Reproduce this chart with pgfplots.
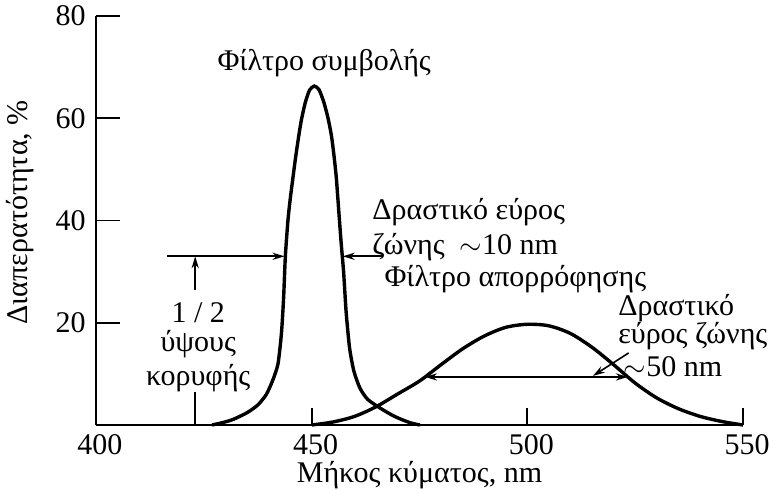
\documentclass[border=0pt]{standalone}
\usepackage{fontspec}
\setmainfont{Liberation Serif}
\usepackage{pgfplots}
\pgfplotsset{compat=1.18}
\usetikzlibrary{arrows.meta}

\begin{document}
\fontsize{15pt}{18pt}\selectfont
\begin{tikzpicture}[>={Stealth[length=6pt,width=3.6pt]}]
\begin{axis}[
  at={(0,0)}, anchor=south west,
  scale only axis, width=323.5pt, height=204.5pt,
  xmin=400, xmax=550, ymin=0, ymax=80,
  axis lines=left,
  axis line style={-, line width=1pt},
  xtick={400,450,500,550}, ytick={20,40,60,80},
  tick align=inside,
  major tick style={line width=0.9pt, black},
  xtick style={/pgfplots/major tick length=8.5pt},
  ytick style={/pgfplots/major tick length=12pt},
  /pgf/number format/assume math mode=true,
  ticklabel style={font=\fontsize{15pt}{18pt}\selectfont},
  xticklabel style={xshift=2pt, yshift=0.5pt},
  xlabel={Μήκος κύματος, nm},
  ylabel={Διαπερατότητα, \%},
  every axis x label/.style={at={(axis description cs:0.5,-0.123)}, anchor=center, inner sep=0pt},
  every axis y label/.style={at={(axis description cs:-0.1175,0.52)}, anchor=center, rotate=90},
  clip=false,
]
% interference filter: narrow band
\addplot[line width=1.7pt, smooth, tension=0.4] coordinates {
  (426.9,0) (429.5,0.5) (431.8,1.1) (435.0,2.4) (437.5,3.9) (439.5,6.0)
  (441.0,8.8) (442.2,12.0) (443.0,18) (443.5,25) (443.9,33) (444.5,40)
  (445.0,44) (445.6,48) (446.3,52.5) (447.0,56.5) (447.6,59.6)
  (448.5,63) (449.5,65.5) (450.6,66.3) (451.7,65.6) (452.8,63.2)
  (453.8,60.0) (454.6,56.5) (455.2,52.5) (455.7,48.5) (456.1,44)
  (456.8,36) (457.4,30) (458.0,22) (458.8,15) (459.8,10.5) (461.2,7.2)
  (463.0,5.0) (465.9,3.3) (468.5,2.0) (470.5,1.2) (473.0,0.4) (475.1,0)
};
% absorption filter: broad band
\addplot[line width=1.7pt, smooth, tension=0.5] coordinates {
  (450,0) (455,0.6) (460,1.7) (465,3.6) (470,6.1) (475,8.6) (480,11.8)
  (485,14.9) (490,17.4) (495,19.1) (500,19.7) (505,19.4) (510,17.9)
  (515,15.2) (520,11.8) (525,8.2) (530,5.3) (535,3.2) (540,1.7)
  (545,0.7) (550,0)
};

% half-height marker and bandwidth arrows
\draw[line width=0.8pt, ->] (axis cs:416.5,33) -- (axis cs:443.7,33);
\draw[line width=0.8pt, ->] (axis cs:466.5,33) -- (axis cs:457.2,33);
\draw[line width=0.8pt, ->] (axis cs:423,26.4) -- (axis cs:423,33);
\draw[line width=0.8pt] (axis cs:423,0) -- (axis cs:423,6.4);
\draw[line width=0.8pt, <->] (axis cs:476.3,9.4) -- (axis cs:523.3,9.4);
\draw[line width=0.8pt, ->] (axis cs:523.5,14.1) -- (axis cs:515.2,9.6);

% labels
\node[anchor=base] at (axis cs:452.9,69.3) {Φίλτρο συμβολής};
\node[anchor=base west, inner sep=0pt] at (axis cs:464,40.2) {Δραστικό εύρος};
\node[anchor=base west, inner sep=0pt] at (axis cs:464,33.4) {ζώνης\ \ $\sim$10 nm};
\node[anchor=base west, inner sep=0pt] at (axis cs:466.8,27.0) {Φίλτρο απορρόφησης};
\node[anchor=base west, inner sep=0pt] at (axis cs:521.0,21.4) {Δραστικό};
\node[anchor=base west, inner sep=0pt] at (axis cs:521.0,15.9) {εύρος ζώνης};
\node[anchor=base west, inner sep=0pt] at (axis cs:522.3,9.4) {$\sim$50 nm};
\node[anchor=base] at (axis cs:423.7,20.1) {1 / 2};
\node[anchor=base] at (axis cs:423.7,14.3) {ύψους};
\node[anchor=base] at (axis cs:423.7,7.8) {κορυφής};
\end{axis}
\pgfresetboundingbox
\path[use as bounding box] (-48pt,-32pt) rectangle (340.5pt,212.5pt);
\end{tikzpicture}
\end{document}
